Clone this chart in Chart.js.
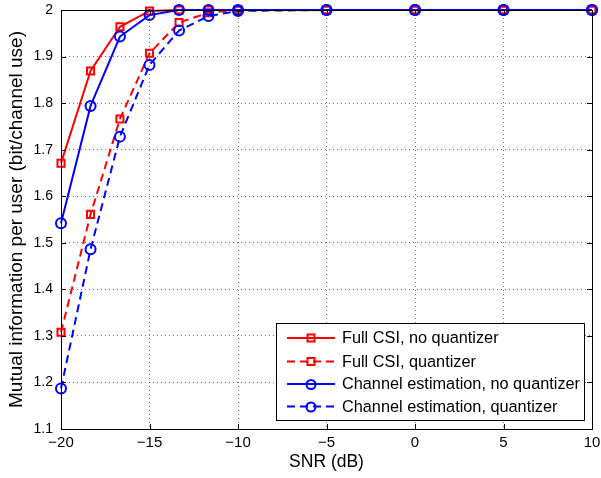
<!DOCTYPE html>
<html>
<head>
<meta charset="utf-8">
<script src="https://cdn.jsdelivr.net/npm/chart.js@4.4.1/dist/chart.umd.min.js"></script>
<style>
  html, body { margin: 0; padding: 0; background: #fff; }
  #wrap { width: 601px; height: 478px; }
</style>
</head>
<body>
<div id="wrap"><canvas id="chart" width="601" height="478"></canvas></div>
<script>
/* SNR sweep, mutual information per user */

const snrDb = [-20, -18.33, -16.67, -15, -13.33, -11.67, -10, -5, 0, 5, 10];

const fullCsiNoQ   = [1.671, 1.869, 1.964, 1.998, 2.0, 2.0, 2.0, 2.0, 2.0, 2.0, 2.0];
const fullCsiQ     = [1.308, 1.561, 1.766, 1.907, 1.973, 1.994, 2.0, 2.0, 2.0, 2.0, 2.0];
const chanEstNoQ   = [1.542, 1.794, 1.943, 1.989, 2.0, 2.0, 2.0, 2.0, 2.0, 2.0, 2.0];
const chanEstQ     = [1.187, 1.486, 1.728, 1.882, 1.956, 1.987, 1.998, 2.0, 2.0, 2.0, 2.0];

const seriesNames = [
  "Full CSI, no quantizer",
  "Full CSI, quantizer",
  "Channel estimation, no quantizer",
  "Channel estimation, quantizer"
];

const xTicks = [-20, -15, -10, -5, 0, 5, 10];
const yTicks = [1.1, 1.2, 1.3, 1.4, 1.5, 1.6, 1.7, 1.8, 1.9, 2];
const xTickLabels = ["\u221220", "\u221215", "\u221210", "\u22125", "0", "5", "10"];
const yTickLabels = ["1.1", "1.2", "1.3", "1.4", "1.5", "1.6", "1.7", "1.8", "1.9", "2"];

const FONT = "'Liberation Sans', Arial, Helvetica, sans-serif";
const RED = "#ff0000";
const BLUE = "#0000ff";

function pts(ys) { return snrDb.map((x, i) => ({ x, y: ys[i] })); }

function makeSet(i, ys, color, dashed, shape) {
  return {
    label: seriesNames[i],
    data: pts(ys),
    borderColor: color,
    backgroundColor: "rgba(0,0,0,0)",
    borderWidth: 2,
    borderDash: dashed ? [8, 5] : [],
    pointStyle: shape,
    pointRadius: shape === "rect" ? 5 : 5,
    pointBorderWidth: 2,
    pointBorderColor: color,
    pointBackgroundColor: "rgba(0,0,0,0)",
    tension: 0,
    clip: 10,
    order: 3 - i
  };
}

// frame, inward ticks and legend, MATLAB style
const framePlugin = {
  id: "frame",
  afterDatasetsDraw(chart) {
    const { ctx, chartArea: a, scales } = chart;
    ctx.save();
    ctx.strokeStyle = "#000";
    ctx.lineWidth = 1;
    ctx.setLineDash([]);
    ctx.strokeRect(Math.round(a.left) + 0.5, Math.round(a.top) + 0.5,
      Math.round(a.right - a.left), Math.round(a.bottom - a.top));
    const tl = 5;
    ctx.beginPath();
    xTicks.forEach(v => {
      const x = Math.round(scales.x.getPixelForValue(v)) + 0.5;
      ctx.moveTo(x, a.bottom); ctx.lineTo(x, a.bottom - tl);
      ctx.moveTo(x, a.top); ctx.lineTo(x, a.top + tl);
    });
    yTicks.forEach(v => {
      const y = Math.round(scales.y.getPixelForValue(v)) + 0.5;
      ctx.moveTo(a.left, y); ctx.lineTo(a.left + tl, y);
      ctx.moveTo(a.right, y); ctx.lineTo(a.right - tl, y);
    });
    ctx.stroke();

    // legend box
    const bx = 276.5, by = 323.5, bw = 308, bh = 97;
    ctx.fillStyle = "#fff";
    ctx.fillRect(bx, by, bw, bh);
    ctx.strokeRect(bx, by, bw, bh);
    const rows = [338, 361.5, 384, 406.5];
    ctx.font = "16.3px " + FONT;
    ctx.textBaseline = "middle";
    ctx.textAlign = "left";
    chart.data.datasets.forEach((ds, i) => {
      const y = rows[i];
      ctx.strokeStyle = ds.borderColor;
      ctx.lineWidth = 2;
      ctx.setLineDash(ds.borderDash);
      ctx.beginPath();
      ctx.moveTo(287, y); ctx.lineTo(335, y);
      ctx.stroke();
      ctx.setLineDash([]);
      ctx.beginPath();
      if (ds.pointStyle === "rect") {
        ctx.rect(307.5, y - 3.5, 7, 7);
      } else {
        ctx.arc(311, y + 0.5, 4.5, 0, Math.PI * 2);
      }
      ctx.stroke();
      ctx.fillStyle = "#000";
      ctx.fillText(ds.label, 342, y + 1);
    });
    ctx.restore();
  }
};

new Chart(document.getElementById("chart"), {
  type: "line",
  data: {
    datasets: [
      makeSet(0, fullCsiNoQ, RED, false, "rect"),
      makeSet(1, fullCsiQ, RED, true, "rect"),
      makeSet(2, chanEstNoQ, BLUE, false, "circle"),
      makeSet(3, chanEstQ, BLUE, true, "circle")
    ]
  },
  options: {
    responsive: false,
    animation: false,
    layout: { padding: { left: 0, top: 10, right: 9, bottom: 0 } },
    plugins: { legend: { display: false }, tooltip: { enabled: false } },
    scales: {
      x: {
        type: "linear",
        min: -20, max: 10,
        afterBuildTicks: s => { s.ticks = xTicks.map(v => ({ value: v })); },
        afterFit: s => { s.height = 49; s.paddingLeft = 0; s.paddingRight = 0; },
        ticks: {
          padding: 5,
          color: "#000",
          font: { family: FONT, size: 15 },
          maxRotation: 0,
          callback: v => xTickLabels[xTicks.indexOf(v)]
        },
        grid: { color: "rgba(0,0,0,0.55)", lineWidth: 1, drawTicks: false },
        border: { display: false, dash: [1, 3] },
        title: {
          display: true, text: "SNR (dB)", color: "#000",
          font: { family: FONT, size: 17.5 },
          padding: { top: 0, bottom: 5.5 }
        }
      },
      y: {
        type: "linear",
        min: 1.1, max: 2,
        afterBuildTicks: s => { s.ticks = yTicks.map(v => ({ value: v })); },
        afterFit: s => { s.width = 61; s.paddingTop = 0; s.paddingBottom = 0; },
        ticks: {
          padding: 8,
          color: "#000",
          font: { family: FONT, size: 14 },
          callback: v => yTickLabels[yTicks.findIndex(t => Math.abs(t - v) < 1e-6)]
        },
        grid: { color: "rgba(0,0,0,0.55)", lineWidth: 1, drawTicks: false },
        border: { display: false, dash: [1, 3] },
        title: {
          display: true, text: "Mutual information per user (bit/channel use)", color: "#000",
          font: { family: FONT, size: 19 },
          padding: { top: 5, bottom: 0 }
        }
      }
    }
  },
  plugins: [framePlugin]
});
</script>
</body>
</html>
